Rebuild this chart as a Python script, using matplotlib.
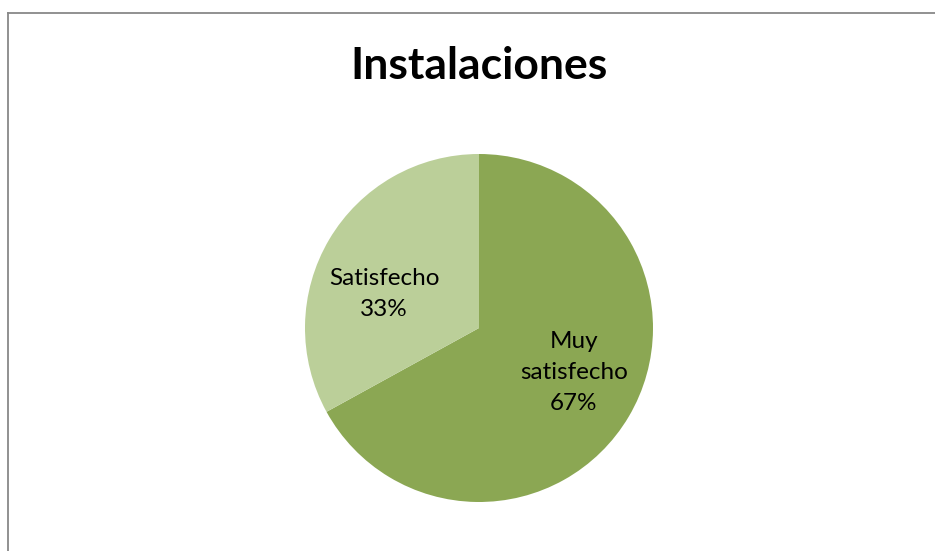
import numpy as np
import matplotlib.pyplot as plt
from matplotlib.lines import Line2D

# datos
categorias = ["Muy\nsatisfecho", "Satisfecho"]
porcentajes = [67, 33]
colores = ["#8BA753", "#BBCF99"]

fig = plt.figure(figsize=(9.35, 5.51), dpi=100)
fig.patch.set_facecolor("white")

# borde del grafico (solo arriba e izquierda visibles)
fig.add_artist(Line2D([8 / 935, 8 / 935], [0, 1 - 13 / 551], transform=fig.transFigure,
                      color="#888888", linewidth=1.3))
fig.add_artist(Line2D([8 / 935, 1], [1 - 13 / 551, 1 - 13 / 551], transform=fig.transFigure,
                      color="#888888", linewidth=1.3))

ax = fig.add_axes([(479 - 174) / 935, (223 - 174) / 551, 348 / 935, 348 / 551])
wedges, _ = ax.pie(porcentajes, colors=colores, startangle=90, counterclock=False,
                   wedgeprops=dict(linewidth=0))

# etiquetas de datos dentro de cada sector (un poco giradas como en Excel)
for w, c, p in zip(wedges, categorias, porcentajes):
    ang = np.deg2rad((w.theta1 + w.theta2) / 2 + 8)
    r = 0.59
    ax.text(r * np.cos(ang), r * np.sin(ang) - 0.03, f"{c}\n{p}%", ha="center", va="center",
            fontsize=17.5, family="Lato", color="black", linespacing=1.58)
ax.set_xlim(-1, 1)
ax.set_ylim(-1, 1)

fig.text(479 / 935, 1 - 66 / 551, "Instalaciones", ha="center", va="center",
         fontsize=32, fontweight="bold", family="Lato")

plt.savefig("out.png", dpi=100)
